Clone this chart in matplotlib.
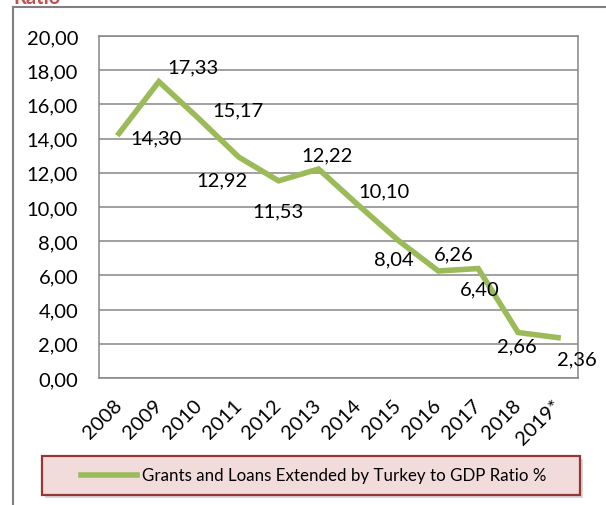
import matplotlib
matplotlib.use('Agg')
import matplotlib.pyplot as plt
import matplotlib.patches as mpatches
from matplotlib.lines import Line2D
from matplotlib.ticker import FuncFormatter, MultipleLocator

plt.rcParams['font.family'] = ['Lato', 'DejaVu Sans']

years = ['2008', '2009', '2010', '2011', '2012', '2013',
         '2014', '2015', '2016', '2017', '2018', '2019*']
ratio = [14.30, 17.33, 15.17, 12.92, 11.53, 12.22,
         10.10, 8.04, 6.26, 6.40, 2.66, 2.36]
series_name = 'Grants and Loans Extended by Turkey to GDP Ratio %'
title = 'Ratio'

# label offsets from each point, in pixels (x right, y up)
label_offsets = [(37, -4), (34, 15), (39, 9), (-17, -23), (-1, -30), (9, 14),
                 (26, 14), (-4, -18), (15, 17), (2, -20), (-1, -13), (19, -21)]

W, H = 606, 506
GREEN = '#9BBB59'
GRID = '#868686'
FS = 14.5

fig = plt.figure(figsize=(W / 100, H / 100), dpi=100)
ax = fig.add_axes([99 / W, 1 - 379 / H, (578 - 99) / W, (379 - 37) / H])

x = list(range(len(years)))
line, = ax.plot(x, ratio, color=GREEN, lw=4, solid_joinstyle='miter',
                label=series_name, zorder=3)

for xi, v, (dx, dy) in zip(x, ratio, label_offsets):
    ax.annotate(f'{v:.2f}'.replace('.', ','), (xi, v), xytext=(dx, dy),
                textcoords='offset pixels', ha='center', va='center',
                fontsize=FS, zorder=4)

ax.set_xlim(-0.5, len(years) - 0.5)
ax.set_ylim(0, 20)
ax.yaxis.set_major_locator(MultipleLocator(2))
ax.yaxis.set_major_formatter(FuncFormatter(lambda v, _: f'{v:.2f}'.replace('.', ',')))
ax.set_xticks(x)
ax.set_xticklabels(years, rotation=45, ha='right', va='center',
                   rotation_mode='anchor')
ax.tick_params(axis='x', length=0, pad=17, labelsize=FS)
ax.tick_params(axis='y', length=0, pad=15, labelsize=FS)
ax.grid(axis='y', color=GRID, lw=1.1)
ax.set_axisbelow(True)
for s in ax.spines.values():
    s.set_color(GRID)
    s.set_linewidth(1.1)

# outer chart frame (left and top edges visible)
fig.add_artist(Line2D([13 / W, 13 / W], [0, 1 - 8 / H], transform=fig.transFigure,
                      color='#7F7F7F', lw=1.5))
fig.add_artist(Line2D([13 / W, 1], [1 - 8 / H, 1 - 8 / H], transform=fig.transFigure,
                      color='#7F7F7F', lw=1.5))

fig.text(13 / W, 1 - 4 / H, title, color='#C0504D', fontsize=FS,
         fontweight='bold', va='baseline', ha='left')

# legend box
bx0, by0, bw, bh = 42 / W, 1 - 496 / H, 538 / W, 39 / H
fig.add_artist(mpatches.Rectangle((bx0 + 3 / W, by0 - 3 / H), bw, bh,
                                  transform=fig.transFigure, facecolor='#BFBFBF',
                                  edgecolor='none', alpha=0.6))
fig.add_artist(mpatches.Rectangle((bx0, by0), bw, bh, transform=fig.transFigure,
                                  facecolor='#F2DCDB', edgecolor='#953735', lw=1.6))
fig.legend(handles=[line], loc='center',
           bbox_to_anchor=(bx0 + bw / 2 + 3 / W, by0 + bh / 2),
           frameon=False, fontsize=12.2, handlelength=3.3, handletextpad=0.3,
           borderaxespad=0)

fig.savefig('out.png', dpi=100)
